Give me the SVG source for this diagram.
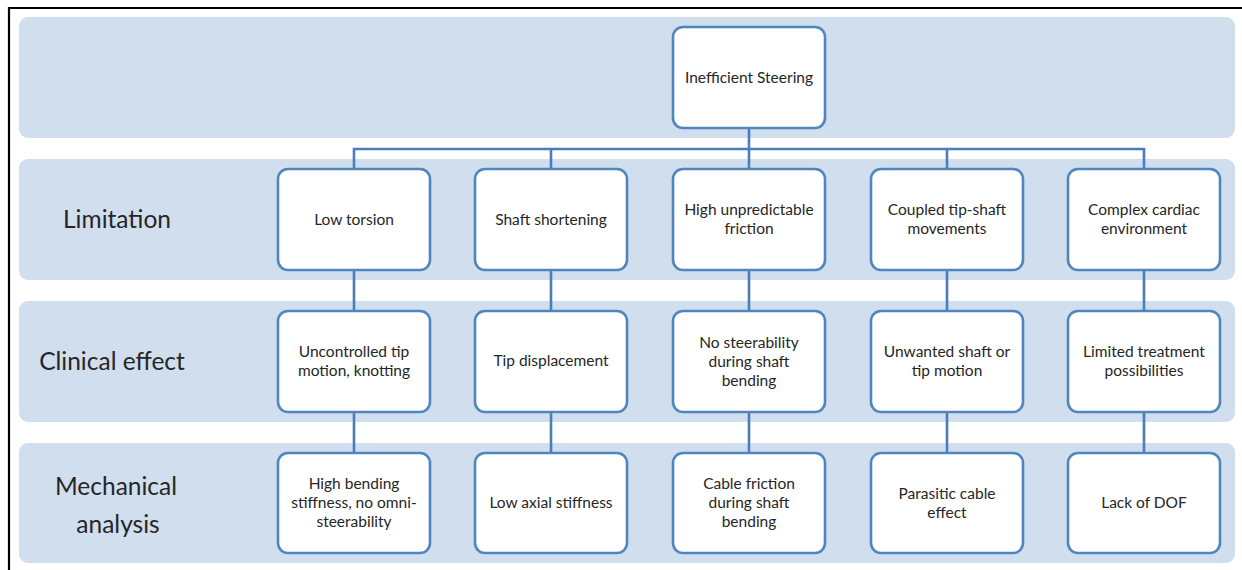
<svg xmlns="http://www.w3.org/2000/svg" width="1242" height="570" viewBox="0 0 1242 570">
<style>
.band{fill:#d1deee}
.node{fill:#ffffff;stroke:#4f86bf;stroke-width:2.6}
.conn{stroke:#4a7ebb;stroke-width:2.6;fill:none}
.t{font-family:Lato,"Open Sans","Liberation Sans",sans-serif;font-size:15.5px;fill:#262626;text-anchor:middle}
.lab{font-family:Lato,"Open Sans","Liberation Sans",sans-serif;font-size:24.5px;fill:#262626;text-anchor:middle}
</style>
<rect x="0" y="0" width="1242" height="570" fill="#ffffff"/>
<path d="M9,570 V8 H1242" fill="none" stroke="#000" stroke-width="2.2"/>
<g id="bands">
<rect class="band" x="19" y="17" width="1216" height="121" rx="9"/>
<rect class="band" x="19" y="159" width="1216" height="121" rx="9"/>
<rect class="band" x="19" y="301" width="1216" height="121" rx="9"/>
<rect class="band" x="19" y="443" width="1216" height="120" rx="9"/>
</g>
<g id="row-labels">
<text class="lab" x="117" y="228">Limitation</text>
<text class="lab" x="112" y="370">Clinical effect</text>
<text class="lab" x="116" y="495">Mechanical</text>
<text class="lab" x="118" y="533">analysis</text>
</g>
<g id="connectors">
<path class="conn" d="M749,128 V149 M354,169 V149 H1144 V169 M551,149 V169 M749,149 V169 M947,149 V169"/>
<path class="conn" d="M354,270 V311 M551,270 V311 M749,270 V311 M947,270 V311 M1144,270 V311"/>
<path class="conn" d="M354,412 V453 M551,412 V453 M749,412 V453 M947,412 V453 M1144,412 V453"/>
</g>
<g id="n-root"><rect class="node" x="673" y="27" width="152" height="101" rx="10"/><text class="t" x="749" y="83">Inefficient Steering</text></g>

<g id="n-l1"><rect class="node" x="278" y="169" width="152" height="101" rx="10"/><text class="t" x="354" y="225">Low torsion</text></g>
<g id="n-l2"><rect class="node" x="475" y="169" width="152" height="101" rx="10"/><text class="t" x="551" y="225">Shaft shortening</text></g>
<g id="n-l3"><rect class="node" x="673" y="169" width="152" height="101" rx="10"/><text class="t" x="749" y="215">High unpredictable</text><text class="t" x="749" y="234">friction</text></g>
<g id="n-l4"><rect class="node" x="871" y="169" width="152" height="101" rx="10"/><text class="t" x="947" y="215">Coupled tip-shaft</text><text class="t" x="947" y="234">movements</text></g>
<g id="n-l5"><rect class="node" x="1068" y="169" width="152" height="101" rx="10"/><text class="t" x="1144" y="215">Complex cardiac</text><text class="t" x="1144" y="234">environment</text></g>

<g id="n-c1"><rect class="node" x="278" y="311" width="152" height="101" rx="10"/><text class="t" x="354" y="357">Uncontrolled tip</text><text class="t" x="354" y="376">motion, knotting</text></g>
<g id="n-c2"><rect class="node" x="475" y="311" width="152" height="101" rx="10"/><text class="t" x="551" y="366">Tip displacement</text></g>
<g id="n-c3"><rect class="node" x="673" y="311" width="152" height="101" rx="10"/><text class="t" x="749" y="348">No steerability</text><text class="t" x="749" y="367">during shaft</text><text class="t" x="749" y="386">bending</text></g>
<g id="n-c4"><rect class="node" x="871" y="311" width="152" height="101" rx="10"/><text class="t" x="947" y="357">Unwanted shaft or</text><text class="t" x="947" y="376">tip motion</text></g>
<g id="n-c5"><rect class="node" x="1068" y="311" width="152" height="101" rx="10"/><text class="t" x="1144" y="357">Limited treatment</text><text class="t" x="1144" y="376">possibilities</text></g>

<g id="n-m1"><rect class="node" x="278" y="453" width="152" height="100" rx="10"/><text class="t" x="354" y="489">High bending</text><text class="t" x="354" y="508">stiffness, no omni-</text><text class="t" x="354" y="527">steerability</text></g>
<g id="n-m2"><rect class="node" x="475" y="453" width="152" height="100" rx="10"/><text class="t" x="551" y="508">Low axial stiffness</text></g>
<g id="n-m3"><rect class="node" x="673" y="453" width="152" height="100" rx="10"/><text class="t" x="749" y="489">Cable friction</text><text class="t" x="749" y="508">during shaft</text><text class="t" x="749" y="527">bending</text></g>
<g id="n-m4"><rect class="node" x="871" y="453" width="152" height="100" rx="10"/><text class="t" x="947" y="499">Parasitic cable</text><text class="t" x="947" y="518">effect</text></g>
<g id="n-m5"><rect class="node" x="1068" y="453" width="152" height="100" rx="10"/><text class="t" x="1144" y="508">Lack of DOF</text></g>
</svg>
